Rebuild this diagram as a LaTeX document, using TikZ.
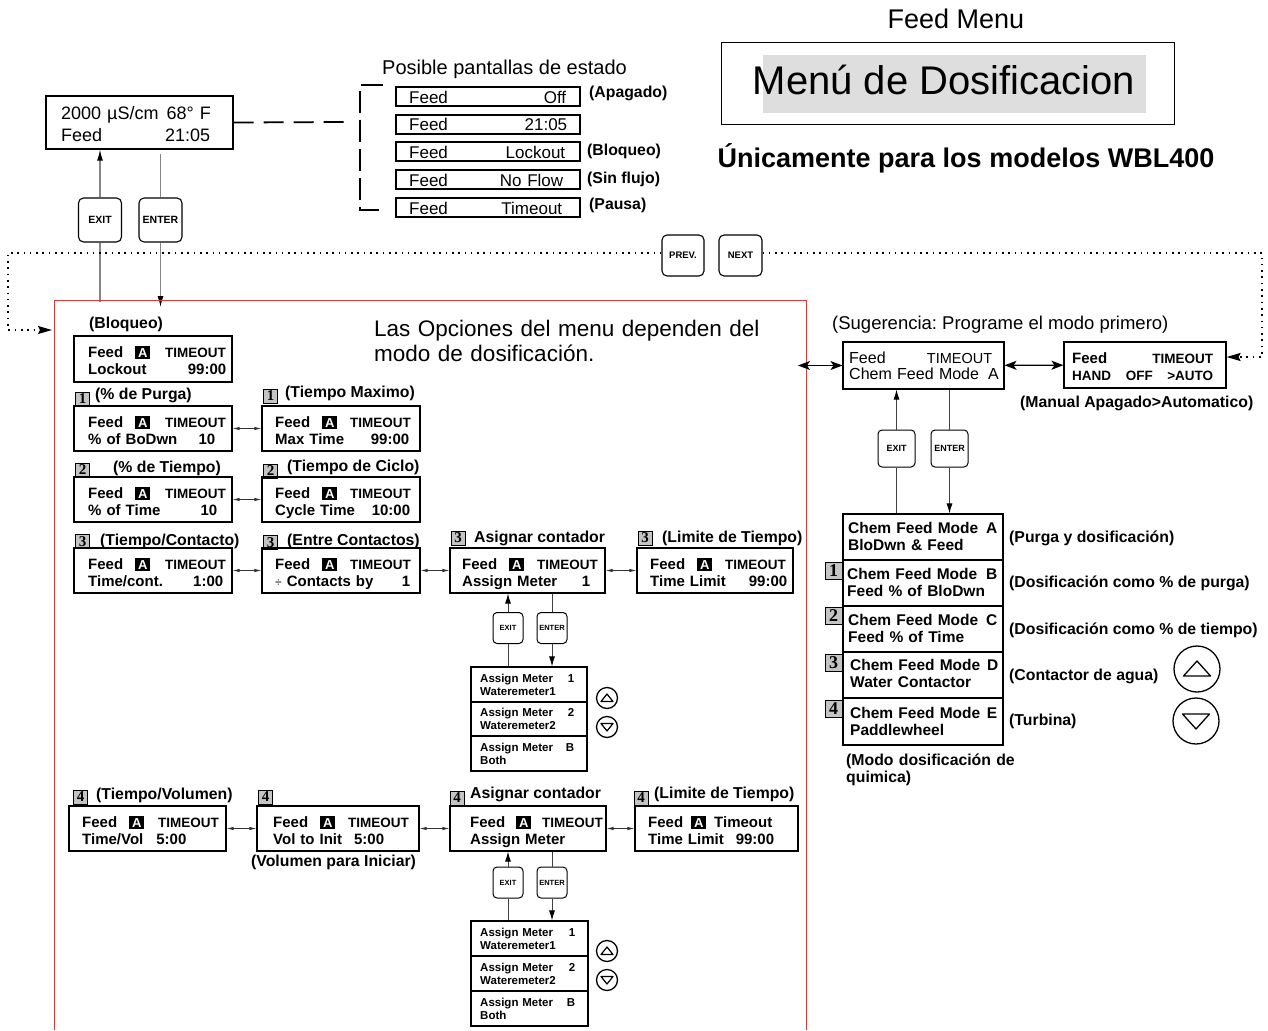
\documentclass[tikz,border=0pt]{standalone}
\usepackage{fontspec}
\setmainfont{Liberation Sans}
\newfontfamily\numfont{Liberation Serif}
\usetikzlibrary{arrows.meta}
\frenchspacing
\definecolor{redframe}{HTML}{E53935}
\definecolor{numgray}{HTML}{C4C4C4}
\definecolor{hlgray}{HTML}{DEDEDE}
\definecolor{conngray}{HTML}{858585}
\newcommand\fs[2]{\fontsize{#1}{#2}\selectfont}
\newcommand\rp[1]{\hspace*{#1}\null}
\newcommand\Ainv{{\setlength\fboxsep{2pt}\colorbox{black}{\makebox[11pt]{\color{white}\fs{13}{13}\bfseries A}}}}
\newcommand\TO{{\fs{13.5}{17}TIMEOUT}}
\newcommand\ftop[2]{\mbox{Feed\hspace{#1}\Ainv\hspace{#2}\TO}}
\tikzset{
  plain/.style={inner sep=0pt},
  lcdbox/.style={draw, line width=1.1pt, inner sep=0pt},
  lcdtext/.style={inner sep=0pt, font=\bfseries\fs{15}{17}},
  stattext/.style={font=\mdseries\fs{17}{19}},
  metertext/.style={font=\bfseries\fs{11.5}{13}},
  modetext/.style={font=\bfseries\fs{15.5}{17.5}},
  lab/.style={inner sep=0pt, font=\bfseries\fs{15.8}{17.5}, anchor=base west},
  numbox/.style={draw, line width=0.8pt, fill=numgray, minimum width=14pt, minimum height=14pt, inner sep=0pt, font=\numfont\bfseries\fs{15}{15}},
  bignum/.style={numbox, minimum width=17pt, minimum height=17pt, font=\numfont\bfseries\fs{18}{18}},
  btn/.style={draw, line width=1.1pt, rounded corners=5pt, inner sep=0pt, font=\bfseries\fs{10.5}{10.5}},
  btnS/.style={draw, line width=1pt, rounded corners=4pt, inner sep=0pt, minimum width=30pt, minimum height=31pt, font=\bfseries\fs{7.5}{7.5}},
  btnM/.style={draw, line width=1pt, rounded corners=4pt, inner sep=0pt, minimum width=37pt, minimum height=37pt, font=\bfseries\fs{9}{9}},
  updown/.style={circle, draw, line width=1.3pt, inner sep=0pt},
  connG/.style={draw=conngray, line width=1.2pt},
  tipG/.style={-{Latex[length=11pt,width=6pt,color=black]}},
  conn/.style={draw=black!75, line width=0.9pt},
  tip/.style={-{Latex[length=10pt,width=6pt,color=black]}},
  dbl/.style={draw=black!80, line width=0.8pt, {Latex[length=7pt,width=3.5pt]}-{Latex[length=7pt,width=3.5pt]}},
  hdbl/.style={line width=1.1pt, {Stealth[length=12pt,width=9pt,inset=3pt]}-{Stealth[length=12pt,width=9pt,inset=3pt]}},
  dots/.style={line width=1.6pt, dash pattern=on 1.6pt off 4.7pt},
  dotstip/.style={-{Stealth[length=14pt,width=8pt,inset=2pt]}},
  dashB/.style={line width=1.8pt, dash pattern=on 20pt off 10pt},
}
% #1 text style, #2 name, #3 x1, #4 y1, #5 x2, #6 y2, #7 text x, #8 first baseline, #9 content
\newcommand\lcd[9][]{%
  \pgfmathsetmacro\bw{#5-#3}\pgfmathsetmacro\bh{#6-#4}%
  \pgfmathsetmacro\bx{(#3+#5)/2}\pgfmathsetmacro\by{(#4+#6)/2}%
  \pgfmathsetmacro\tw{#5-#7-5}%
  \node[lcdbox, minimum width=\bw pt, minimum height=\bh pt] (#2) at (\bx,\by) {};%
  \node[lcdtext, #1, text width=\tw pt, anchor=base west] (#2t) at (#7,#8) {#9};}
\begin{document}
\begin{tikzpicture}[x=1pt,y=-1pt]
\useasboundingbox (0,0) rectangle (1268,1030);

% ---------- title block ----------
\node[plain, font=\fs{27}{30}, anchor=base] (fmtitle) at (956,29) {Feed Menu};
\fill[hlgray] (763,55) rectangle (1146,113);
\node[draw, line width=1pt, minimum width=453pt, minimum height=82pt, inner sep=0pt] (menubox) at (947.5,84) {};
\node[plain, font=\fs{40}{44}, anchor=base] (menutitle) at (944,95) {Menú de Dosificacion};
\node[plain, font=\bfseries\fs{27}{30}, anchor=base] (onlywbl) at (966,167) {Únicamente para los modelos WBL400};

% ---------- status display ----------
\lcd[font=\mdseries\fs{18}{21}]{status}{46}{96}{233}{149}{61}{120}{2000 µS/cm\hspace{8pt}68° F\\Feed\hfill 21:05\rp{18pt}}
\node[plain, font=\fs{20}{22}, anchor=base west] (posible) at (382,75) {Posible pantallas de estado};
\lcd[stattext]{s1}{396}{87}{580}{106}{409}{103}{Feed\hfill Off\rp{9pt}}
\lcd[stattext]{s2}{396}{115}{580}{134}{409}{131}{Feed\hfill 21:05\rp{8pt}}
\lcd[stattext]{s3}{396}{142}{580}{161}{409}{158}{Feed\hfill Lockout\rp{10pt}}
\lcd[stattext]{s4}{396}{170}{580}{189}{409}{186}{Feed\hfill No Flow\rp{12pt}}
\lcd[stattext]{s5}{396}{198}{580}{217}{409}{214}{Feed\hfill Timeout\rp{13pt}}
\node[lab] (lapag) at (589,98) {(Apagado)};
\node[lab] (lbloq) at (587,155) {(Bloqueo)};
\node[lab] (lsinf) at (587,183) {(Sin flujo)};
\node[lab] (lpaus) at (589,209) {(Pausa)};
\coordinate (dashend) at (347,122);
\draw[dashB] (status.east) -- (dashend);
\draw[line width=1.8pt, dash pattern=on 22pt off 7pt] (383,85) -- (360,85) -- (360,210) -- (383,210);

% ---------- top EXIT / ENTER ----------
\node[btn, minimum width=43pt, minimum height=44pt] (exit1) at (100,220) {EXIT};
\node[btn, minimum width=43pt, minimum height=44pt] (enter1) at (160.5,220) {ENTER};
\coordinate (frametop) at (54,302);
\coordinate (entertip) at (54,307);
\draw[connG, tipG] (exit1.north) -- (exit1 |- status.south);
\draw[connG] (exit1.south) -- (exit1 |- frametop);
\draw[connG] ([yshift=-4pt]enter1 |- status.south) -- (enter1.north);
\draw[connG, tipG] (enter1.south) -- (enter1 |- entertip);

% ---------- PREV / NEXT and dotted loop ----------
\node[btn, minimum width=42pt, minimum height=41pt, font=\bfseries\fs{9.5}{9.5}] (prev) at (683,255.5) {PREV.};
\node[btn, minimum width=43pt, minimum height=41pt, font=\bfseries\fs{9.5}{9.5}] (next) at (740.5,255.5) {NEXT};
\coordinate (dl) at (8,253);
\coordinate (dlb) at (8,330);
\coordinate (dtip) at (52,330);
\coordinate (dr) at (1262,253);
\coordinate (drb) at (1262,357);

% ---------- red frame ----------
\draw[redframe, line width=1pt] (54,1030) -- (54,300) -- (806,300) -- (806,1030);

\node[plain, font=\fs{22.5}{25}, text width=400pt, anchor=base west] (opts) at (374,336) {Las Opciones del menu dependen del\\modo de dosificación.};

% ---------- column 1 / 2 ----------
\node[lab] (lbloq2) at (89,328) {(Bloqueo)};
\lcd{lock}{74}{336}{232}{382}{88}{357}{\ftop{12pt}{15pt}\\Lockout\hfill 99:00\rp{1pt}}

\node[numbox] (n1a) at (82.5,399) {1};
\node[lab] (lpurga) at (95,399) {(\% de Purga)};
\lcd{bodwn}{74}{406}{232}{451}{88}{427}{\ftop{12pt}{15pt}\\\% of BoDwn\hfill 10\rp{12pt}}
\node[numbox] (n1b) at (270.5,396) {1};
\node[lab] (lmax) at (285,397) {(Tiempo Maximo)};
\lcd{maxtime}{262}{406}{420}{451}{275}{427}{\ftop{12pt}{13pt}\\Max Time\hfill 99:00\rp{6pt}}
\draw[dbl] (bodwn) -- (maxtime);

\node[numbox] (n2a) at (82.5,470) {2};
\node[lab] (ltiempo) at (113,472) {(\% de Tiempo)};
\lcd{pctime}{74}{477}{232}{522}{88}{498}{\ftop{12pt}{15pt}\\\% of Time\hfill 10\rp{10pt}}
\node[numbox] (n2b) at (270.5,471) {2};
\node[lab] (lciclo) at (287,471) {(Tiempo de Ciclo)};
\lcd{cycle}{262}{477}{420}{522}{275}{498}{\ftop{12pt}{13pt}\\Cycle Time\hfill 10:00\rp{5pt}}
\draw[dbl] (pctime) -- (cycle);

\node[numbox] (n3a) at (82.5,541.5) {3};
\node[lab] (lcont) at (100,545) {(Tiempo/Contacto)};
\lcd{timecont}{74}{548}{232}{593}{88}{569}{\ftop{12pt}{15pt}\\Time/cont.\hfill 1:00\rp{4pt}}
\node[numbox] (n3b) at (270.5,542.5) {3};
\node[lab] (lentre) at (287,545) {(Entre Contactos)};
\lcd{contacts}{262}{548}{420}{593}{275}{569}{\ftop{12pt}{13pt}\\{\mdseries\fs{12}{17}÷} Contacts by\hfill 1\rp{5pt}}
\draw[dbl] (timecont) -- (contacts);

% ---------- column 3 / 4 (row 3) ----------
\node[numbox] (n3c) at (458,538) {3};
\node[lab] (lasig3) at (474,542) {Asignar contador};
\lcd{assign3}{450}{548}{605}{593}{462}{569}{\ftop{12pt}{13pt}\\Assign Meter\hfill 1\rp{10pt}}
\node[numbox] (n3d) at (645,538) {3};
\node[lab] (llim3) at (662,542) {(Limite de Tiempo)};
\lcd{tlimit3}{637}{548}{793}{593}{650}{569}{\ftop{12pt}{13pt}\\Time Limit\hfill 99:00\rp{1pt}}
\draw[dbl] (contacts) -- (assign3);
\draw[dbl] (assign3) -- (tlimit3);

\node[btnS] (exit3) at (508,628) {EXIT};
\node[btnS] (enter3) at (552,628) {ENTER};
\lcd[metertext]{m3a}{471}{667}{587}{702}{480}{682}{Assign Meter\hfill 1\rp{8pt}\\Wateremeter1}
\lcd[metertext]{m3b}{471}{702}{587}{736}{480}{716}{Assign Meter\hfill 2\rp{8pt}\\Wateremeter2}
\lcd[metertext]{m3c}{471}{736}{587}{771}{480}{751}{Assign Meter\hfill B\rp{8pt}\\Both}
\draw[conn, tip] (exit3.north) -- (exit3 |- assign3.south);
\draw[conn] (exit3.south) -- (exit3 |- m3a.north);
\draw[conn] (enter3 |- assign3.south) -- (enter3.north);
\draw[conn, tip] (enter3.south) -- (enter3 |- m3a.north);
\node[updown, minimum size=21pt] (up3) at (607,698) {};
\node[updown, minimum size=21pt] (down3) at (607,727) {};
\draw[line width=1.2pt, line join=round] ([shift={(-6,3.5)}]up3.center) -- ([shift={(6,3.5)}]up3.center) -- ([shift={(0,-4)}]up3.center) -- cycle;
\draw[line width=1.2pt, line join=round] ([shift={(-6,-3.5)}]down3.center) -- ([shift={(6,-3.5)}]down3.center) -- ([shift={(0,4)}]down3.center) -- cycle;

% ---------- row 4 ----------
\node[numbox] (n4a) at (80.5,797) {4};
\node[lab] (lvol) at (96,799) {(Tiempo/Volumen)};
\lcd{timevol}{69}{806}{226}{851}{82}{827}{\ftop{12pt}{14pt}\\Time/Vol\hspace{13pt}5:00}
\node[numbox] (n4b) at (265.5,797) {4};
\lcd{volinit}{257}{806}{419}{851}{273}{827}{\ftop{12pt}{13pt}\\Vol to Init\hspace{12pt}5:00}
\node[lab] (liniciar) at (251,866) {(Volumen para Iniciar)};
\node[numbox] (n4c) at (457,798) {4};
\node[lab] (lasig4) at (470,798) {Asignar contador};
\lcd{assign4}{450}{806}{606}{851}{470}{827}{\ftop{11pt}{11pt}\\Assign Meter}
\node[numbox] (n4d) at (641,798) {4};
\node[lab] (llim4) at (654,798) {(Limite de Tiempo)};
\lcd{tlimit4}{635}{806}{798}{851}{648}{827}{\mbox{Feed\hspace{8pt}\Ainv\hspace{8pt}Timeout}\\Time Limit\hspace{12pt}99:00}
\draw[dbl] (timevol) -- (volinit);
\draw[dbl] (volinit) -- (assign4);
\draw[dbl] (assign4) -- (tlimit4);

\node[btnS] (exit4) at (508,882.5) {EXIT};
\node[btnS] (enter4) at (552,882.5) {ENTER};
\lcd[metertext]{m4a}{471}{921}{588}{956}{480}{936}{Assign Meter\hfill 1\rp{8pt}\\Wateremeter1}
\lcd[metertext]{m4b}{471}{956}{588}{991}{480}{971}{Assign Meter\hfill 2\rp{8pt}\\Wateremeter2}
\lcd[metertext]{m4c}{471}{991}{588}{1026}{480}{1006}{Assign Meter\hfill B\rp{8pt}\\Both}
\draw[conn, tip] (exit4.north) -- (exit4 |- assign4.south);
\draw[conn] (exit4.south) -- (exit4 |- m4a.north);
\draw[conn] (enter4 |- assign4.south) -- (enter4.north);
\draw[conn, tip] (enter4.south) -- (enter4 |- m4a.north);
\node[updown, minimum size=21pt] (up4) at (607,951) {};
\node[updown, minimum size=21pt] (down4) at (607,980) {};
\draw[line width=1.2pt, line join=round] ([shift={(-6,3.5)}]up4.center) -- ([shift={(6,3.5)}]up4.center) -- ([shift={(0,-4)}]up4.center) -- cycle;
\draw[line width=1.2pt, line join=round] ([shift={(-6,-3.5)}]down4.center) -- ([shift={(6,-3.5)}]down4.center) -- ([shift={(0,4)}]down4.center) -- cycle;

% ---------- right side ----------
\node[plain, font=\fs{18.5}{20}, anchor=base west] (sug) at (832,329) {(Sugerencia: Programe el modo primero)};
\lcd[font=\mdseries\fs{16}{16.5}]{chem}{843}{342}{1004}{389}{849}{363}{Feed\hfill{\fs{14.5}{16.5}TIMEOUT}\rp{7pt}\\Chem Feed Mode\hspace{9pt}A}
\lcd{hand}{1064}{342}{1226}{388}{1072}{363}{Feed\hfill\TO\rp{8pt}\\{\fs{13.5}{16}HAND\hfill OFF\hfill >AUTO}\rp{8pt}}
\node[lab] (lmanual) at (1020,407) {(Manual Apagado>Automatico)};
\coordinate (rfa) at (798,365.5);
\draw[hdbl] (rfa) -- (chem.west);
\draw[hdbl] (chem) -- (hand);

\node[btnM] (exitR) at (896.5,448.5) {EXIT};
\node[btnM] (enterR) at (949.5,448.5) {ENTER};
\lcd[modetext]{modeA}{843}{514}{1003}{560}{848}{533}{Chem Feed Mode\hfill A\rp{1pt}\\BloDwn \& Feed}
\lcd[modetext]{modeB}{843}{560}{1003}{606}{847}{579}{Chem Feed Mode\hfill B\rp{1pt}\\Feed \% of BloDwn}
\lcd[modetext]{modeC}{843}{606}{1003}{652}{848}{625}{Chem Feed Mode\hfill C\rp{1pt}\\Feed \% of Time}
\lcd[modetext]{modeD}{843}{652}{1003}{698}{850}{670}{Chem Feed Mode\hfill D\\Water Contactor}
\lcd[modetext]{modeE}{843}{698}{1003}{745}{850}{718}{Chem Feed Mode\hfill E\rp{1pt}\\Paddlewheel}
\draw[conn, tip] (exitR.north) -- (exitR |- chem.south);
\draw[conn] (exitR.south) -- (exitR |- modeA.north);
\draw[conn] (enterR |- chem.south) -- (enterR.north);
\draw[conn, tip] (enterR.south) -- (enterR |- modeA.north);
\node[bignum] (nB) at (833.5,570.5) {1};
\node[bignum] (nC) at (833.5,616) {2};
\node[bignum] (nD) at (833.5,662.5) {3};
\node[bignum] (nE) at (833.5,708.5) {4};
\node[lab] (lpy) at (1009,542) {(Purga y dosificación)};
\node[lab] (ldp) at (1009,587) {(Dosificación como \% de purga)};
\node[lab] (ldt) at (1009,634) {(Dosificación como \% de tiempo)};
\node[lab] (lca) at (1009,680) {(Contactor de agua)};
\node[lab] (ltu) at (1009,725) {(Turbina)};
\node[lab, text width=200pt] (lmodo) at (846,765) {(Modo dosificación de\\quimica)};
\node[updown, minimum size=46pt] (upR) at (1197,669) {};
\node[updown, minimum size=46pt] (downR) at (1196,721) {};
\draw[line width=1.3pt, line join=round] ([shift={(-13.5,7)}]upR.center) -- ([shift={(13.5,7)}]upR.center) -- ([shift={(0,-8)}]upR.center) -- cycle;
\draw[line width=1.3pt, line join=round] ([shift={(-13.5,-7)}]downR.center) -- ([shift={(13.5,-7)}]downR.center) -- ([shift={(0,8)}]downR.center) -- cycle;

% ---------- dotted NEXT/PREV loop ----------
\draw[dots, dotstip] (prev.west |- dl) -- (dl) -- (dlb) -- (dtip);
\draw[dots, dotstip] (next.east |- dr) -- (dr) -- (drb) -- (hand.east |- drb);
\end{tikzpicture}
\end{document}
